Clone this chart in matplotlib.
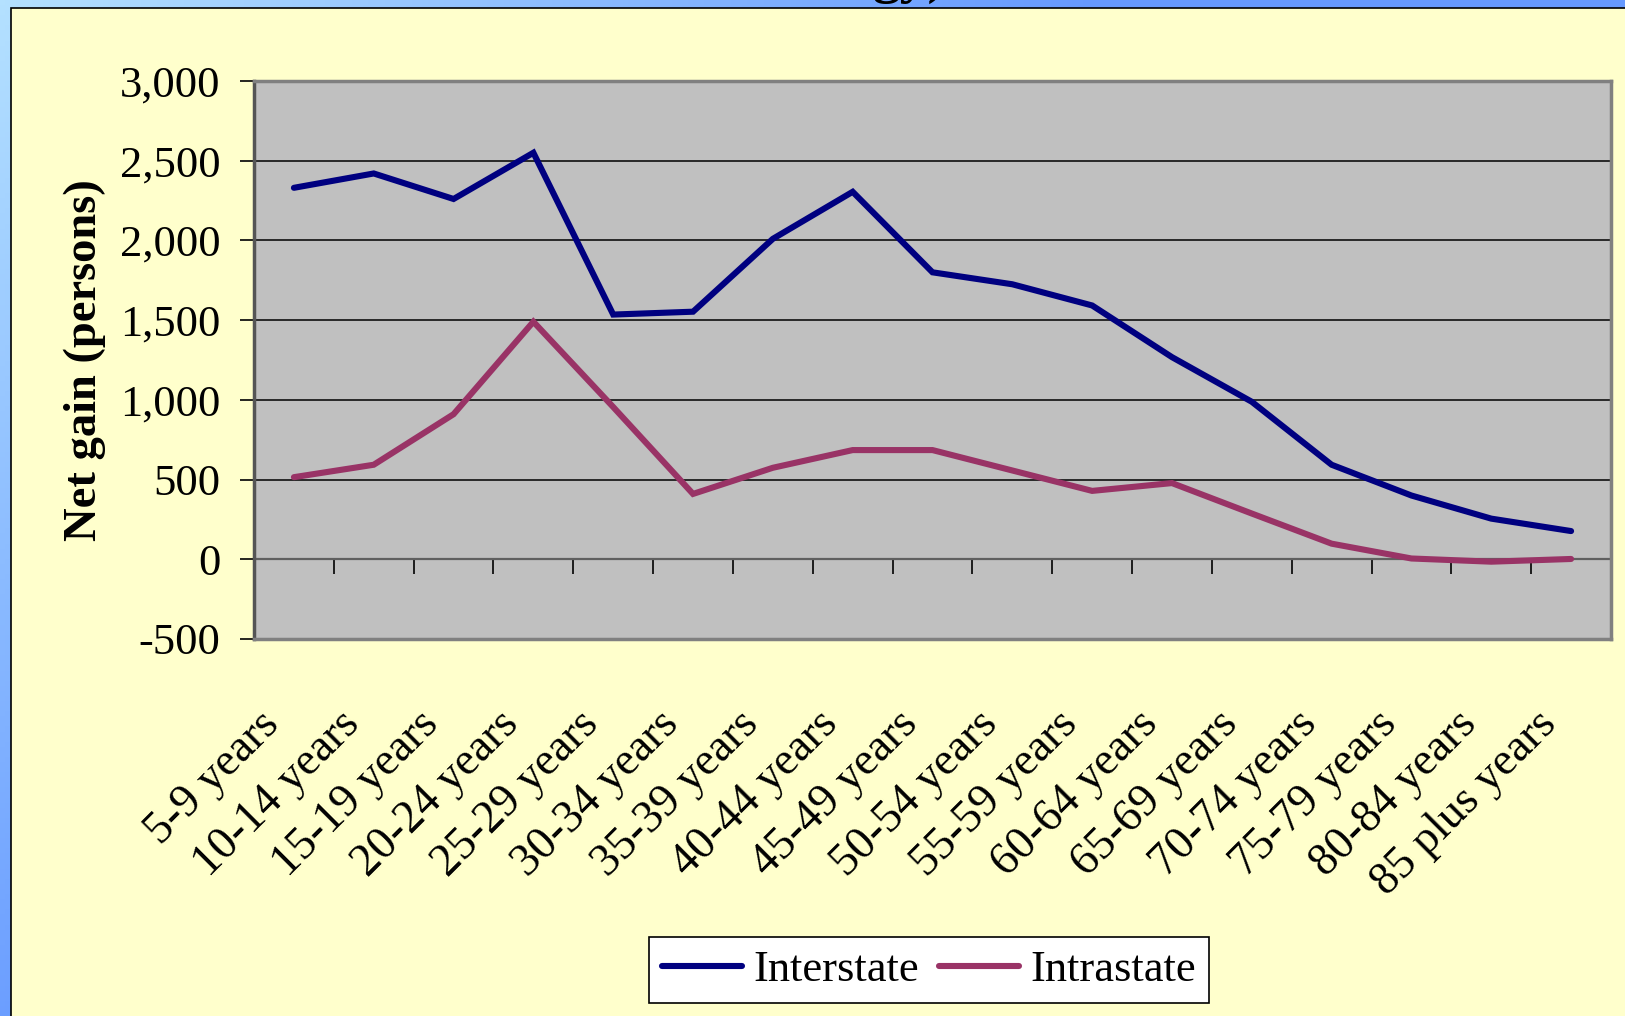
import numpy as np
import matplotlib
matplotlib.use('Agg')
import matplotlib.pyplot as plt
from matplotlib.patches import Rectangle
from matplotlib.transforms import ScaledTranslation

# ── data ────────────────────────────────────────────────
age_groups = ['5-9 years', '10-14 years', '15-19 years', '20-24 years',
              '25-29 years', '30-34 years', '35-39 years', '40-44 years',
              '45-49 years', '50-54 years', '55-59 years', '60-64 years',
              '65-69 years', '70-74 years', '75-79 years', '80-84 years',
              '85 plus years']
interstate = [2330, 2420, 2260, 2550, 1535, 1553, 2010, 2305, 1800,
              1725, 1592, 1268, 988, 593, 400, 255, 177]
intrastate = [515, 593, 910, 1490, 955, 410, 574, 685, 685,
              557, 429, 478, 287, 98, 5, -15, 2]
y_ticks = [-500, 0, 500, 1000, 1500, 2000, 2500, 3000]

# ── style ───────────────────────────────────────────────
NAVY = '#000080'; PLUM = '#993366'
YELLOW = '#FFFFCC'; PLOT_BG = '#C0C0C0'; FRAME = '#808080'
SERIF = ['Liberation Serif', 'DejaVu Serif']
FS = 32

plt.rcParams['font.family'] = SERIF

W, H, DPI = 1625, 1016, 100
fig = plt.figure(figsize=(W / DPI, H / DPI), dpi=DPI)

# blue gradient slide background
bg = fig.add_axes([0, 0, 1, 1], zorder=-3)
gx, gy = np.meshgrid(np.linspace(0, 1, 300), np.linspace(0, 1, 200))
t = np.clip((gx * W + gy * H) / 1100, 0, 1)[..., None]
c0 = np.array([0xB4, 0xE1, 0xFF]) / 255
c1 = np.array([0x66, 0x99, 0xFF]) / 255
bg.imshow(c0 * (1 - t) + c1 * t, aspect='auto', extent=[0, 1, 1, 0])
bg.set_axis_off()

# slide title, only its descenders peek out above the yellow panel
fig.text(872 / W, 1 + 8 / H, 'gy)', fontsize=40, fontweight='bold',
         ha='left', va='baseline', zorder=-2)

# yellow panel
fig.patches.append(Rectangle((11 / W, -0.01), 1.0, 1 - 8 / H + 0.01,
                             transform=fig.transFigure, facecolor=YELLOW,
                             edgecolor='black', lw=1.2, zorder=-1))

# ── chart ───────────────────────────────────────────────
ax = fig.add_axes([254 / W, 1 - 639 / H, (1611 - 254) / W, (639 - 81) / H],
                  zorder=1)
ax.set_facecolor(PLOT_BG)
x = np.arange(len(age_groups))

ax.plot(x, interstate, color=NAVY, lw=4.4, solid_joinstyle='miter',
        solid_capstyle='round', label='Interstate', zorder=3)
ax.plot(x, intrastate, color=PLUM, lw=4.4, solid_joinstyle='miter',
        solid_capstyle='round', label='Intrastate', zorder=3)

ax.set_xlim(-0.5, len(age_groups) - 0.5)
ax.set_ylim(y_ticks[0], y_ticks[-1])
ax.set_yticks(y_ticks)
ax.set_yticklabels([f'{v:,}' for v in y_ticks], fontsize=FS)
ax.tick_params(axis='y', direction='out', length=10, width=1.2,
               color='black', pad=14)
for v in y_ticks[2:-1]:
    ax.axhline(v, color='black', lw=1.1, zorder=1)

for s in ax.spines.values():
    s.set_color(FRAME)
    s.set_linewidth(2.5)
ax.spines['left'].set_color('#555555')

# category labels along the bottom of the plot area
ax.set_xticks(x)
ax.set_xticklabels(age_groups, fontsize=FS + 1, rotation=45, ha='right',
                   va='top', rotation_mode='anchor')
ax.tick_params(axis='x', length=0, pad=0)
offset = ScaledTranslation(-36 / DPI, -64 / DPI, fig.dpi_scale_trans)
for lab in ax.get_xticklabels():
    lab.set_transform(lab.get_transform() + offset)

# category axis crossing at zero, with tick marks between categories
y0 = (0 - y_ticks[0]) / (y_ticks[-1] - y_ticks[0])
sec = ax.secondary_xaxis(y0)
sec.set_xticks(np.arange(len(age_groups) + 1) - 0.5)
sec.set_xticklabels([])
sec.tick_params(direction='out', length=11, width=1.2, color='black')
sec.spines['bottom'].set_color('#606060')
sec.spines['bottom'].set_linewidth(1.6)

ax.set_ylabel('Net gain (persons)', fontsize=FS + 1.5, fontweight='bold')
ax.yaxis.set_label_coords((106 - 254) / (1611 - 254), 0.5)

leg = fig.legend(loc='center', bbox_to_anchor=(929 / W, 1 - 970 / H),
                 ncol=2, fontsize=FS, frameon=True, fancybox=False,
                 edgecolor='black', facecolor='white', framealpha=1,
                 handlelength=1.8, handletextpad=0.25, columnspacing=0.45,
                 borderpad=0.3, borderaxespad=0)
leg.get_frame().set_linewidth(1.2)
leg.set_zorder(2)

fig.savefig('out.png', dpi=DPI, facecolor=YELLOW)
